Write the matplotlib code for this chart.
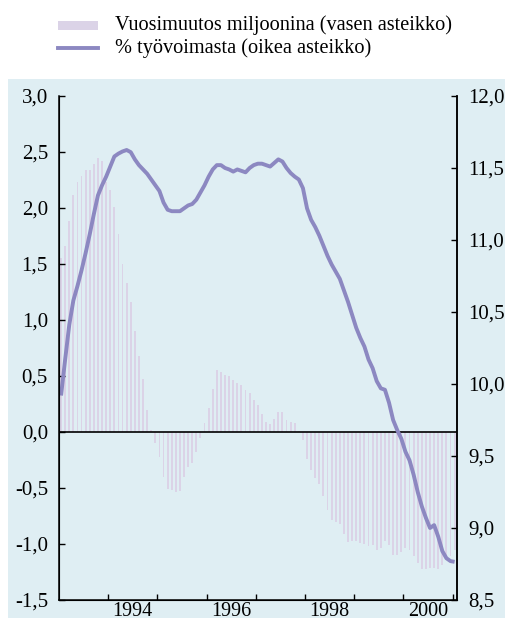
import numpy as np
import matplotlib
matplotlib.use("Agg")
import matplotlib.pyplot as plt
from matplotlib.patches import Rectangle
from matplotlib.lines import Line2D

# monthly data, Jan 1993 - Jan 2001
change_mill = [1.55, 1.66, 1.88, 2.12, 2.23, 2.29, 2.34, 2.34, 2.39, 2.45, 2.42, 2.23,
               2.16, 2.01, 1.77, 1.50, 1.33, 1.16, 0.90, 0.68, 0.47, 0.20, 0.02, -0.10,
               -0.22, -0.40, -0.51, -0.52, -0.54, -0.53, -0.40, -0.31, -0.28, -0.18, -0.05, 0.08,
               0.21, 0.38, 0.55, 0.54, 0.51, 0.50, 0.46, 0.44, 0.42, 0.375, 0.35, 0.29,
               0.24, 0.16, 0.09, 0.07, 0.12, 0.18, 0.18, 0.11, 0.09, 0.08, 0.01, -0.07,
               -0.24, -0.34, -0.41, -0.46, -0.57, -0.70, -0.79, -0.80, -0.82, -0.91, -0.98, -0.97,
               -0.97, -0.99, -1.00, -1.02, -1.01, -1.05, -1.04, -0.97, -1.01, -1.10, -1.10, -1.07,
               -1.04, -1.05, -1.11, -1.17, -1.22, -1.22, -1.21, -1.21, -1.22, -1.19, -1.14, -1.11,
               -1.05]
pct_labour = [9.92, 10.17, 10.41, 10.58, 10.68, 10.79, 10.91, 11.04, 11.18, 11.31, 11.38, 11.44,
              11.51, 11.58, 11.60, 11.615, 11.625, 11.61, 11.56, 11.52, 11.49, 11.46, 11.42, 11.38,
              11.34, 11.26, 11.21, 11.20, 11.20, 11.20, 11.22, 11.24, 11.25, 11.28, 11.33, 11.38,
              11.44, 11.49, 11.52, 11.52, 11.50, 11.49, 11.475, 11.49, 11.48, 11.47, 11.50, 11.52,
              11.53, 11.53, 11.52, 11.51, 11.535, 11.56, 11.545, 11.50, 11.465, 11.44, 11.42, 11.36,
              11.22, 11.14, 11.09, 11.03, 10.96, 10.89, 10.83, 10.78, 10.73, 10.65, 10.57, 10.48,
              10.39, 10.32, 10.26, 10.17, 10.11, 10.02, 9.97, 9.96, 9.87, 9.75, 9.68, 9.62,
              9.53, 9.47, 9.37, 9.25, 9.15, 9.07, 9.00, 9.02, 8.94, 8.84, 8.79, 8.77,
              8.765]
year_labels = ["1994", "1996", "1998", "2000"]
left_ticks = [3.0, 2.5, 2.0, 1.5, 1.0, 0.5, 0.0, -0.5, -1.0, -1.5]
right_ticks = [12.0, 11.5, 11.0, 10.5, 10.0, 9.5, 9.0, 8.5]

t = 1993 + (np.arange(len(change_mill)) + 0.5) / 12.0

plt.rcParams['font.family'] = ['Liberation Serif', 'DejaVu Serif']
bg = '#dfeef3'
bar_col = '#dbd3e7'
line_col = '#8c88c1'

fig = plt.figure(figsize=(5.11, 6.2), dpi=100)
fig.patches.append(Rectangle((8/511, 2/620), 497/511, 539/620, transform=fig.transFigure,
                             facecolor=bg, edgecolor='none', zorder=-5))

ax = fig.add_axes([59/511, 20/620, 398/511, 504/620])
ax.set_facecolor(bg)
ax.bar(t, change_mill, width=0.46/12, color=bar_col, linewidth=0)
ax.axhline(0, color='black', lw=1.2)
ax.set_xlim(1993.0, 2001.09)
ax.set_ylim(-1.5, 3.0)
ax.set_yticks(left_ticks)
ax.set_yticklabels([("%.1f" % v).replace('.', ',') for v in left_ticks])
ax.set_xticks(np.arange(1994, 2002))
ax.set_xticklabels([])
ax.set_xticks([1994.5, 1996.5, 1998.5, 2000.5], minor=True)
ax.set_xticklabels(year_labels, minor=True)
ax.tick_params(axis='x', which='major', direction='in', length=4, width=1)
ax.tick_params(axis='x', which='minor', length=0, pad=1.5, labelsize=14.5)
ax.tick_params(axis='y', direction='in', length=4, width=1, pad=8, labelsize=15)
ax.spines['top'].set_visible(False)
for s in ['left', 'right', 'bottom']:
    ax.spines[s].set_linewidth(1.1)

ax2 = ax.twinx()
ax2.plot(t, pct_labour, color=line_col, lw=2.8, solid_capstyle='butt')
ax2.set_ylim(8.5, 12.0)
ax2.set_yticks(right_ticks)
ax2.set_yticklabels([("%.1f" % v).replace('.', ',') for v in right_ticks])
ax2.tick_params(axis='y', direction='in', length=4, width=1, pad=8, labelsize=15)
ax2.spines['top'].set_visible(False)
ax2.spines['right'].set_linewidth(1.1)

# legend above the panel
fig.patches.append(Rectangle((58/511, 1 - 30/620), 40/511, 9/620, transform=fig.transFigure,
                             facecolor=bar_col, edgecolor='none'))
fig.lines.append(Line2D([58/511, 98/511], [1 - 48/620, 1 - 48/620], transform=fig.transFigure,
                        color=line_col, lw=2.8))
fig.text(115/511, 1 - 25/620, "Vuosimuutos miljoonina (vasen asteikko)", fontsize=14.6,
         va='center', ha='left')
fig.text(115/511, 1 - 48/620, "% työvoimasta (oikea asteikko)", fontsize=14.6,
         va='center', ha='left')

plt.savefig('out.png', dpi=100)
